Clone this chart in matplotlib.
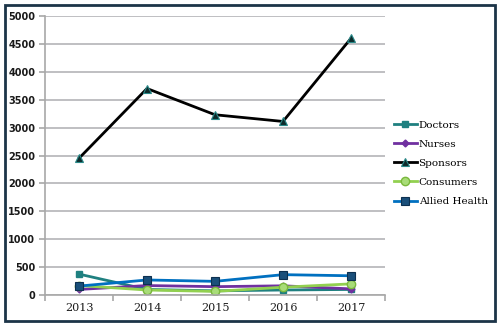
import matplotlib.pyplot as plt
from matplotlib.patches import Rectangle

years = ["2013", "2014", "2015", "2016", "2017"]
doctors = [375, 100, 75, 90, 100]
nurses = [100, 170, 150, 165, 110]
sponsors = [2450, 3700, 3230, 3110, 4600]
consumers = [170, 90, 65, 140, 200]
allied = [160, 270, 245, 365, 345]

plt.rcParams['font.family'] = ['DejaVu Serif']

fig = plt.figure(figsize=(5, 3.26), dpi=100)
ax = fig.add_axes([0.09, 0.095, 0.68, 0.856])

x = range(len(years))
ax.plot(x, doctors, color='#1f8080', lw=2, marker='s', ms=5,
        mfc='#1f8080', mec='#1f8080', label='Doctors')
ax.plot(x, nurses, color='#7030a0', lw=2, marker='D', ms=3.5,
        mfc='#7030a0', mec='#7030a0', label='Nurses')
ax.plot(x, sponsors, color='#000000', lw=2, marker='^', ms=6,
        mfc='#0d2b2b', mec='#2a8a8a', mew=0.8, label='Sponsors')
ax.plot(x, consumers, color='#92d050', lw=2, marker='o', ms=6,
        mfc='#a8dc78', mec='#7ab83c', label='Consumers')
ax.plot(x, allied, color='#0070c0', lw=2, marker='s', ms=5.5,
        mfc='#1a4f7a', mec='#0d3050', mew=0.8, label='Allied Health')

ax.set_xlim(-0.5, 4.5)
ax.set_ylim(0, 5000)
ax.set_yticks(range(0, 5001, 500))
ax.set_xticks(list(x))
ax.set_xticklabels(years)
ax.set_xticks([i - 0.5 for i in range(6)], minor=True)
ax.grid(axis='y', color='#b4b4b8', lw=1.2)
ax.set_axisbelow(True)
for s in ['top', 'right']:
    ax.spines[s].set_visible(False)
for s in ['left', 'bottom']:
    ax.spines[s].set_color('#a8a8a8')
    ax.spines[s].set_linewidth(1.2)
ax.tick_params(axis='x', which='major', length=0, labelsize=8, pad=6,
               labelcolor='#1a1a1a')
ax.tick_params(axis='x', which='minor', length=4, color='#a8a8a8', width=1.2)
ax.tick_params(axis='y', length=4, color='#a8a8a8', width=1.2, labelsize=7,
               labelcolor='#1a1a1a', pad=3)
for lab in ax.get_yticklabels():
    lab.set_family('DejaVu Sans')
    lab.set_fontweight('bold')

ax.legend(loc='upper left', bbox_to_anchor=(1.01, 0.645), frameon=False,
          fontsize=7.5, handlelength=2.2, handletextpad=0.2, labelspacing=0.95,
          borderpad=0)

fig.patches.append(Rectangle((0.01, 0.015), 0.98, 0.97, transform=fig.transFigure,
                             fill=False, edgecolor='#1c3448', lw=2))

plt.savefig('out.png', dpi=100)
